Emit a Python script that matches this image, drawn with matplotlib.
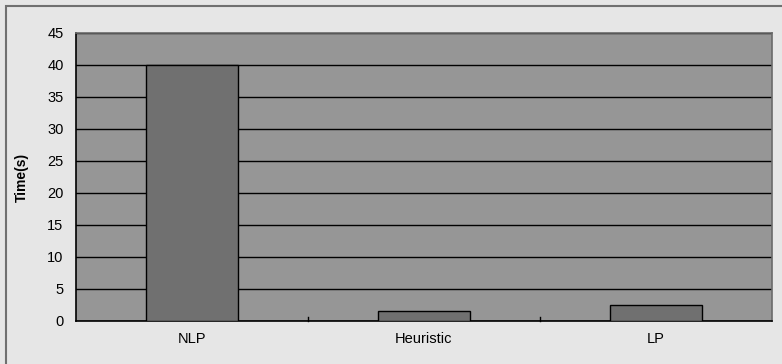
import matplotlib.pyplot as plt
from matplotlib.patches import Rectangle

methods = ['NLP', 'Heuristic', 'LP']
times = [40, 1.6, 2.5]
yticks = [0, 5, 10, 15, 20, 25, 30, 35, 40, 45]

plt.rcParams['font.family'] = ['Liberation Sans', 'DejaVu Sans']

fig = plt.figure(figsize=(7.82, 3.64), dpi=100)
fig.patch.set_facecolor('#e6e6e6')
# outer frame (only top/left visible in the original)
fig.add_artist(Rectangle((6/782, -0.1), 1.2, 1 - 6/364 + 0.1, transform=fig.transFigure,
                         fill=False, edgecolor='#707070', linewidth=1.5))

ax = fig.add_axes([76/782, 1 - 321/364, (772 - 76)/782, (321 - 33)/364])
ax.set_facecolor('#969696')

x = range(len(methods))
ax.bar(x, times, width=0.4, color='#707070', edgecolor='black', linewidth=1, zorder=3)

ax.set_xlim(-0.5, 2.5)
ax.set_ylim(0, 45)
ax.set_yticks(yticks)
ax.yaxis.grid(True, color='black', linewidth=1)
ax.set_axisbelow(True)
ax.tick_params(axis='y', length=0, labelsize=10.5, pad=9)
ax.set_xticks(list(x))
ax.set_xticklabels(methods)
ax.tick_params(axis='x', length=0, labelsize=10.5, pad=8)
# category separators on the x axis
for b in [0.5, 1.5]:
    ax.plot([b, b], [0, 0.7], color='black', linewidth=1, zorder=4, clip_on=False)

for s in ['left', 'bottom']:
    ax.spines[s].set_color('black')
    ax.spines[s].set_linewidth(1.2)
for s in ['top', 'right']:
    ax.spines[s].set_color('#6a6a6a')
    ax.spines[s].set_linewidth(1.2)

ax.set_ylabel('Time(s)', fontsize=10, fontweight='bold', labelpad=13)

fig.savefig('out.png', dpi=100, facecolor=fig.get_facecolor())
